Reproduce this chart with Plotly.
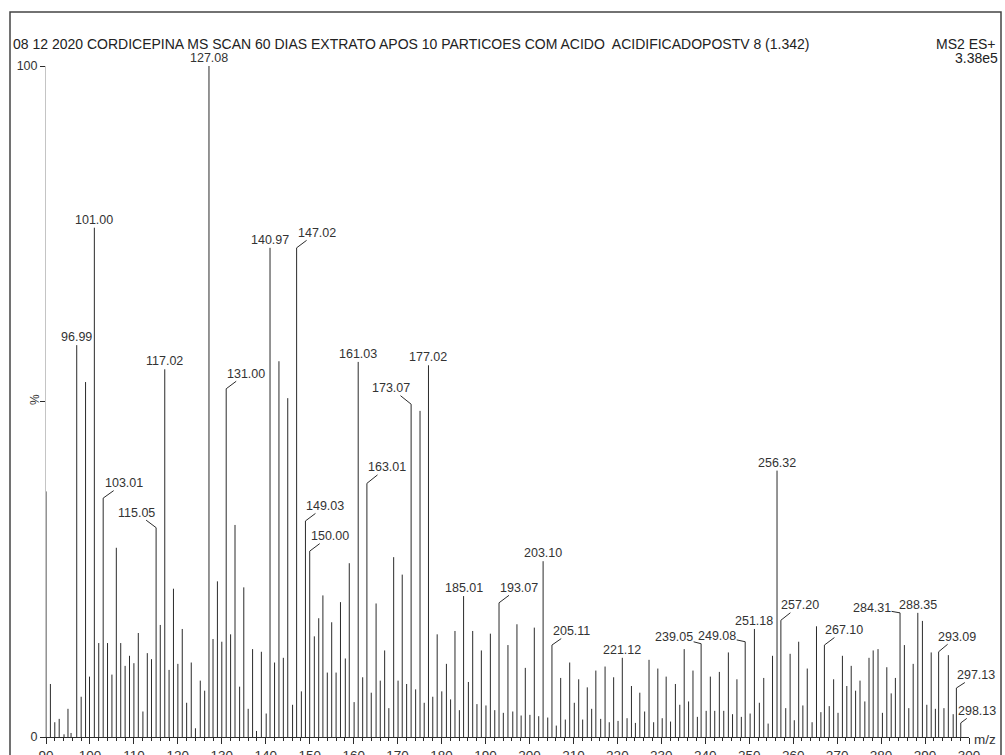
import plotly.graph_objects as go

# ---- spectrum data: m/z and relative intensity (%) ----
mz = [
    90.0, 91.0, 92.0, 93.0, 94.1, 95.0, 95.7, 96.99, 98.0, 99.0,
    99.9, 101.00, 102.0, 103.01, 104.0, 105.0, 106.0, 107.0, 108.0, 109.0,
    110.0, 111.0, 112.05, 113.05, 114.0, 115.05, 116.0, 117.02, 118.0, 119.0,
    120.0, 121.0, 122.0, 123.05, 124.0, 125.1, 126.1, 127.08, 128.0, 129.0,
    130.0, 131.00, 132.0, 133.0, 134.05, 135.0, 136.0, 137.0, 137.9, 139.0,
    140.1, 140.97, 142.0, 143.0, 144.0, 145.0, 146.1, 147.02, 148.1, 149.03,
    150.00, 151.05, 152.05, 153.0, 154.0, 155.0, 156.0, 157.0, 158.1, 159.0,
    160.1, 161.03, 162.05, 163.01, 164.0, 165.1, 166.05, 167.05, 168.0, 169.1,
    170.1, 171.05, 172.05, 173.07, 174.1, 175.1, 176.05, 177.02, 178.0, 179.0,
    180.05, 181.1, 182.05, 183.05, 184.05, 185.01, 186.1, 187.08, 188.05, 189.05,
    190.1, 191.1, 192.1, 193.07, 194.05, 195.1, 196.2, 197.15, 198.1, 199.05,
    200.1, 201.1, 202.1, 203.10, 204.15, 205.11, 206.1, 207.1, 208.15, 209.15,
    210.2, 211.2, 212.1, 213.15, 214.15, 215.1, 216.2, 217.2, 218.15, 219.15,
    220.15, 221.12, 222.2, 223.2, 224.1, 225.1, 226.2, 227.2, 228.25, 229.2,
    230.2, 231.1, 232.1, 233.2, 234.2, 235.2, 236.2, 237.2, 238.2, 239.05,
    240.2, 241.15, 242.15, 243.2, 244.2, 245.25, 246.2, 247.2, 248.2, 249.08,
    250.2, 251.18, 252.3, 253.3, 254.3, 255.3, 256.32, 257.20, 258.3, 259.3,
    260.25, 261.25, 262.2, 263.2, 264.3, 265.3, 266.3, 267.10, 268.2, 269.2,
    270.2, 271.2, 272.2, 273.2, 274.2, 275.2, 276.3, 277.25, 278.2, 279.3,
    280.3, 281.3, 282.3, 283.25, 284.31, 285.3, 286.3, 287.3, 288.35, 289.4,
    290.4, 291.4, 292.35, 293.09, 294.3, 295.3, 296.4, 297.13, 298.13,
]
intensity = [
    36.6, 7.9, 2.2, 2.7, 0.4, 4.2, 0.6, 58.4, 6.0, 52.9,
    9.0, 75.9, 14.0, 35.6, 14.0, 9.3, 28.2, 14.0, 10.6, 12.1,
    11.0, 15.5, 3.8, 12.5, 11.6, 31.2, 16.7, 54.8, 10.0, 22.1,
    10.9, 16.1, 5.1, 11.1, 1.3, 8.4, 6.9, 100.0, 14.6, 23.2,
    14.2, 51.9, 15.3, 31.6, 7.5, 22.3, 4.2, 13.1, 0.9, 12.7,
    3.5, 72.9, 11.1, 56.0, 11.8, 50.5, 4.8, 72.9, 6.8, 32.2,
    27.7, 15.0, 17.7, 21.1, 9.6, 17.1, 9.6, 20.1, 11.7, 25.9,
    5.2, 55.9, 8.9, 37.8, 6.6, 19.9, 8.4, 12.9, 4.3, 26.8,
    8.4, 24.2, 7.9, 49.6, 7.1, 48.6, 5.1, 55.4, 6.0, 15.3,
    6.8, 10.9, 5.6, 15.8, 4.0, 21.0, 8.2, 15.8, 4.9, 12.9,
    4.7, 15.4, 4.0, 20.0, 3.6, 13.7, 3.8, 16.8, 3.2, 10.3,
    3.3, 16.3, 3.1, 26.2, 2.9, 13.7, 1.7, 8.8, 2.6, 11.1,
    5.1, 8.6, 2.6, 7.4, 4.2, 9.9, 2.7, 10.5, 2.2, 8.9,
    2.4, 11.8, 2.8, 7.6, 2.1, 6.6, 3.8, 11.5, 2.2, 10.2,
    2.8, 9.0, 2.3, 7.9, 4.8, 13.1, 5.3, 9.9, 3.0, 13.9,
    3.9, 9.0, 3.9, 9.7, 3.9, 12.6, 3.4, 8.6, 3.0, 14.2,
    3.5, 16.1, 5.1, 8.8, 2.0, 12.1, 39.7, 17.4, 4.3, 12.4,
    2.5, 14.2, 4.7, 10.2, 2.2, 16.5, 3.7, 13.7, 4.6, 8.6,
    3.6, 12.1, 7.6, 10.6, 6.9, 8.4, 5.3, 11.8, 12.9, 13.1,
    3.6, 10.4, 6.5, 8.8, 18.5, 13.7, 4.3, 10.9, 18.5, 17.3,
    4.8, 12.6, 4.2, 12.7, 4.3, 12.2, 3.4, 7.3, 2.1,
]

# peaks carrying an m/z label
labelled = [
    96.99, 101.00, 103.01, 115.05, 117.02, 127.08, 131.00, 140.97, 147.02,
    149.03, 150.00, 161.03, 163.01, 173.07, 177.02, 185.01, 193.07, 203.10,
    205.11, 221.12, 239.05, 249.08, 251.18, 256.32, 257.20, 267.10, 284.31,
    288.35, 293.09, 297.13, 298.13,
]

x_ticks = list(range(90, 301, 10))
title_text = ("08 12 2020 CORDICEPINA MS SCAN 60 DIAS EXTRATO APOS 10 PARTICOES "
              "COM ACIDO  ACIDIFICADOPOSTV 8 (1.342)")

# ---- page geometry (pixels) ----
W, H = 1005, 755
L, R, T, B = 46, 36, 66, 18
PW, PH = W - L - R, H - T - B
INK = "#2b2b2b"
FONT = "Liberation Sans, Arial, sans-serif"


def px(xp):
    return (xp - L) / PW


def py(yp):
    return (H - B - yp) / PH


# leader-line offsets (dx, dy in pixels) for labels set beside their peak
leaders = {
    103.01: (21, -15), 115.05: (-20, -15), 131.00: (20, -15), 147.02: (20, -15),
    149.03: (20, -15), 150.00: (20, -15), 163.01: (20, -16), 173.07: (-20, -16),
    193.07: (20, -15), 205.11: (20, -14), 239.05: (-27, -7), 249.08: (-28, -6),
    257.20: (19, -15), 267.10: (20, -15), 284.31: (-28, -5), 293.09: (18, -15),
    297.13: (20, -13), 298.13: (16, -12),
}

# stick spectrum as one broken line trace
xs, ys = [], []
for m, v in zip(mz, intensity):
    xs += [m, m, None]
    ys += [0, v, None]

fig = go.Figure(go.Scatter(
    x=xs, y=ys, mode="lines",
    line=dict(color=INK, width=1),
    hoverinfo="skip", showlegend=False, cliponaxis=False,
))

label_font = dict(family=FONT, size=12.5, color="#333")
annotations = []
for m, v in zip(mz, intensity):
    if m not in labelled:
        continue
    txt = f"{m:.2f}"
    if m in leaders:
        dx, dy = leaders[m]
        annotations.append(dict(
            x=m, y=v, xref="x", yref="y", text=txt,
            showarrow=True, arrowhead=0, arrowwidth=1, arrowcolor=INK,
            ax=dx, ay=dy, standoff=0, borderpad=0, font=label_font,
        ))
    else:
        annotations.append(dict(
            x=m, y=v, xref="x", yref="y", text=txt, showarrow=False,
            yanchor="bottom", yshift=-1, font=label_font,
        ))

# header and axis captions
head_font = dict(family=FONT, size=14, color="#222")
annotations += [
    dict(x=px(11), y=py(44), xref="paper", yref="paper", text=title_text,
         showarrow=False, xanchor="left", yanchor="middle", font=head_font),
    dict(x=px(998), y=py(44), xref="paper", yref="paper", text="MS2 ES+",
         showarrow=False, xanchor="right", yanchor="middle", font=head_font),
    dict(x=px(1000), y=py(58), xref="paper", yref="paper", text="3.38e5",
         showarrow=False, xanchor="right", yanchor="middle", font=head_font),
    dict(x=px(35), y=py(400), xref="paper", yref="paper", text="%",
         showarrow=False, textangle=-90, xanchor="center", yanchor="middle",
         font=dict(family=FONT, size=12, color="#333")),
    dict(x=px(985), y=py(739), xref="paper", yref="paper", text="m/z",
         showarrow=False, xanchor="center", yanchor="middle",
         font=dict(family=FONT, size=13.5, color="#333")),
]

fig.update_layout(
    width=W, height=H,
    margin=dict(l=L, r=R, t=T, b=B, autoexpand=False),
    paper_bgcolor="white", plot_bgcolor="white",
    annotations=annotations,
    shapes=[dict(type="rect", xref="paper", yref="paper",
                 x0=px(10), x1=px(1001), y0=py(770), y1=py(12),
                 line=dict(color="#444", width=1.5), layer="above")],
    xaxis=dict(
        range=[90, 300], showgrid=False, zeroline=False,
        showline=True, linecolor=INK, linewidth=1,
        tickmode="array", tickvals=x_ticks, ticks="outside",
        ticklen=6, tickcolor=INK, tickwidth=1,
        minor=dict(dtick=2, ticks="outside", ticklen=3, tickcolor=INK),
        tickfont=dict(family=FONT, size=13.5, color="#333"),
        automargin=False, fixedrange=True,
    ),
    yaxis=dict(
        range=[0, 100], showgrid=False, zeroline=False,
        showline=True, linecolor="#c4c4c4", linewidth=1,
        tickmode="array", tickvals=[0, 50, 100], ticktext=["0", "", "100"],
        ticks="outside", ticklen=5, tickcolor=INK,
        tickfont=dict(family=FONT, size=12.5, color="#333"),
        automargin=False, fixedrange=True,
    ),
)

fig.write_html("out.html")
